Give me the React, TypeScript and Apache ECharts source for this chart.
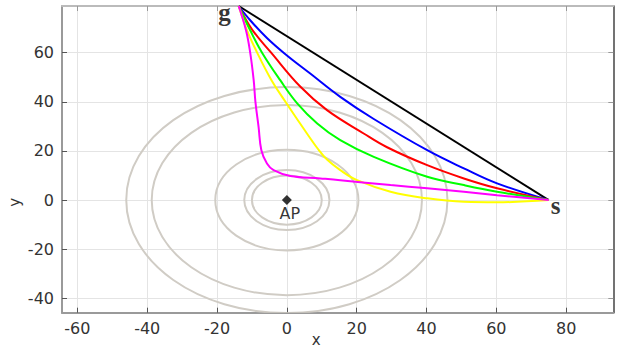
import React, { useEffect, useRef } from "react";
import * as echarts from "echarts";

const xTicks = [-60, -40, -20, 0, 20, 40, 60, 80];
const yTicks = [-40, -20, 0, 20, 40, 60];
const xRange = [-64.4, 93.5];
const yRange = [-45.85, 79];

const gPoint = [-13.8, 79];
const sPoint = [75, 0];
const apPoint = [0, 0];

const circleRadii = [46, 38.7, 20.5, 12.2, 10];

const blackPath = [gPoint, sPoint];
const bluePath = [[-13.8, 79], [-10.5, 73.2], [-5.7, 66.0], [-0.5, 59.5], [6.7, 51.5], [15.3, 42.0], [24.9, 33.0], [40.2, 20.3], [50.7, 12.9], [60.2, 6.8], [75, 0]];
const redPath = [[-13.8, 79], [-10.0, 69.5], [-4.5, 60.0], [3.9, 46.1], [11.5, 36.6], [22.0, 27.1], [28.7, 21.5], [40.2, 14.2], [50.7, 8.8], [60.2, 4.8], [75, 0]];
const greenPath = [[-13.8, 79], [-10.5, 69.1], [-7.1, 60.0], [-1.9, 48.8], [2.9, 39.5], [8.7, 31.2], [15.3, 24.4], [24.9, 17.6], [40.2, 9.5], [50.7, 6.1], [60.2, 3.4], [75, 0]];
const yellowPath = [[-13.8, 79], [-11.4, 69.1], [-8.5, 60.0], [-4.4, 48.8], [-0.4, 40.0], [3.3, 32.2], [6.0, 26.6], [8.7, 21.2], [11.5, 16.5], [15.3, 12.2], [20.1, 8.1], [29.7, 3.4], [40.2, 0.7], [50.7, -0.7], [60.2, -0.9], [75, 0]];
const magentaPath = [[-13.8, 79], [-11.7, 69.1], [-10.5, 60.0], [-9.5, 48.8], [-9.0, 40], [-8.1, 29.8], [-7.3, 20.3], [-5.7, 14.9], [-3.8, 12.2], [1.0, 9.8], [9.6, 8.8], [15.3, 8.1], [29.7, 6.1], [40.2, 4.8], [50.7, 3.4], [60.2, 2.0], [75, 0]];

const FONT = "DejaVu Sans";

export default function App() {
  const ref = useRef<HTMLDivElement>(null);
  useEffect(() => {
    if (!ref.current) return;
    const chart = echarts.init(ref.current, null, { renderer: "svg" });
    const curve = (data: number[][], color: string) => ({
      type: "line",
      data,
      symbol: "none",
      smooth: 0.4,
      lineStyle: { color, width: 2 },
      xAxisIndex: 0,
      yAxisIndex: 0,
      z: 3,
    });
    chart.setOption({
      animation: false,
      backgroundColor: "#fff",
      grid: { left: 62, right: 14.7, top: 6, bottom: 41.3, containLabel: false, outerBoundsMode: "none" },
      xAxis: [
        {
          type: "value",
          min: xRange[0],
          max: xRange[1],
          position: "bottom",
          axisLine: { show: true, onZero: false, lineStyle: { color: "#9a9a9a", width: 2 } },
          axisTick: { show: true, inside: true, length: 5, customValues: xTicks, lineStyle: { color: "#555", width: 1 } },
          axisLabel: { customValues: xTicks, color: "#333", fontSize: 16, fontFamily: FONT, margin: 8 },
          splitLine: { show: true, lineStyle: { color: "#e4e4e4", width: 1 } },
          name: "x",
          nameLocation: "middle",
          nameGap: 20,
          nameMoveOverlap: false,
          nameTextStyle: { color: "#333", fontSize: 15, fontFamily: FONT, padding: [0, 43, 0, 0] },
        },
        {
          type: "value",
          min: xRange[0],
          max: xRange[1],
          position: "top",
          axisLine: { show: true, onZero: false, lineStyle: { color: "#bbb", width: 2 } },
          axisTick: { show: true, inside: true, length: 5, customValues: xTicks, lineStyle: { color: "#999", width: 1 } },
          axisLabel: { show: false },
          splitLine: { show: false },
        },
      ],
      yAxis: [
        {
          type: "value",
          min: yRange[0],
          max: yRange[1],
          position: "left",
          axisLine: { show: true, onZero: false, lineStyle: { color: "#9a9a9a", width: 2 } },
          axisTick: { show: true, inside: true, length: 5, customValues: yTicks, lineStyle: { color: "#555", width: 1 } },
          axisLabel: { customValues: yTicks, color: "#333", fontSize: 16, fontFamily: FONT, margin: 8 },
          splitLine: { show: true, lineStyle: { color: "#e4e4e4", width: 1 } },
          name: "y",
          nameLocation: "middle",
          nameGap: 40,
          nameMoveOverlap: false,
          nameTextStyle: { color: "#333", fontSize: 15, fontFamily: FONT, padding: [0, 86, 0, 0] },
        },
        {
          type: "value",
          min: yRange[0],
          max: yRange[1],
          position: "right",
          axisLine: { show: true, onZero: false, lineStyle: { color: "#444", width: 1.5 } },
          axisTick: { show: true, inside: true, length: 5, customValues: yTicks, lineStyle: { color: "#999", width: 1 } },
          axisLabel: { show: false },
          splitLine: { show: false },
        },
      ],
      series: [
        {
          type: "custom",
          xAxisIndex: 0,
          yAxisIndex: 0,
          clip: true,
          z: 2,
          data: circleRadii.map((r) => [0, 0, r]),
          renderItem: (params: any, api: any) => {
            const c = api.coord([api.value(0), api.value(1)]);
            const sz = api.size([api.value(2), api.value(2)]);
            return {
              type: "ellipse",
              shape: { cx: c[0], cy: c[1], rx: sz[0], ry: sz[1] },
              style: { fill: "none", stroke: "#d0ccc5", lineWidth: 2 },
            };
          },
        },
        curve(blackPath, "#000000"),
        curve(bluePath, "#0000ff"),
        curve(redPath, "#ff0000"),
        curve(greenPath, "#00ff00"),
        curve(yellowPath, "#ffff00"),
        curve(magentaPath, "#ff00ff"),
        {
          type: "scatter",
          data: [apPoint],
          symbol: "diamond",
          symbolSize: 10,
          itemStyle: { color: "#000" },
          z: 5,
          label: {
            show: true,
            formatter: "AP",
            position: "bottom",
            distance: 0,
            offset: [3, 0],
            color: "#000",
            fontSize: 16,
            fontFamily: FONT,
          },
        },
        {
          type: "scatter",
          data: [gPoint],
          symbolSize: 0,
          z: 5,
          label: {
            show: true,
            formatter: "g",
            position: "left",
            distance: 8,
            offset: [0, 6],
            color: "#000",
            fontSize: 25,
            lineHeight: 20,
            fontWeight: "bold",
            fontFamily: "Liberation Serif",
          },
        },
        {
          type: "scatter",
          data: [sPoint],
          symbolSize: 0,
          z: 5,
          label: {
            show: true,
            formatter: "s",
            position: "right",
            distance: 2,
            offset: [0, 5],
            color: "#000",
            fontSize: 25,
            lineHeight: 20,
            fontWeight: "bold",
            fontFamily: "Liberation Serif",
          },
        },
      ],
    });
    return () => chart.dispose();
  }, []);
  return (
    <div style={{ position: "absolute", left: 0, top: 0 }}>
      <div ref={ref} style={{ width: 628, height: 354 }} />
    </div>
  );
}
